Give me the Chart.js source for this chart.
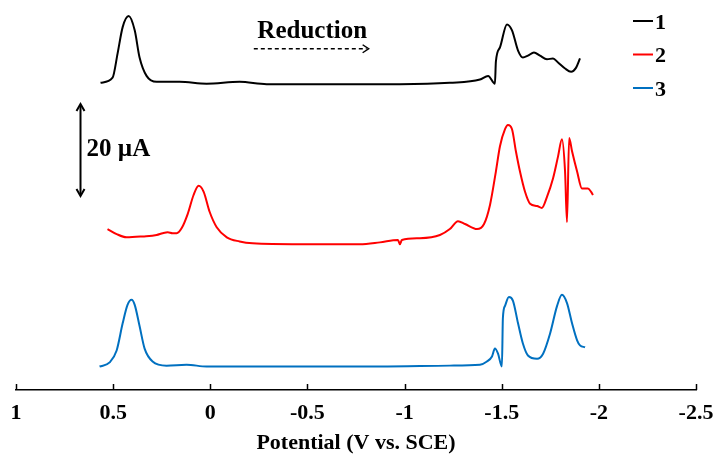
<!DOCTYPE html>
<html>
<head>
<meta charset="utf-8">
<script src="https://cdn.jsdelivr.net/npm/chart.js@4/dist/chart.umd.min.js"></script>
<style>
  html, body { margin: 0; padding: 0; background: #fff; }
  #wrap { width: 717px; height: 464px; }
</style>
</head>
<body>
<div id="wrap"><canvas id="c" width="717" height="464"></canvas></div>
<script>
// ---- Data (potential in V vs. SCE, current in µA relative to each trace's baseline) ----
const seriesNames = ["1", "2", "3"];
const seriesColors = ["#000000", "#ff0000", "#0070c0"];
const seriesOffsets = [66.8, 31.9, 5.3]; // vertical offset of each trace, µA

const potential1 = [0.565, 0.503, 0.477, 0.451, 0.420, 0.389, 0.364, 0.328, 0.276, 0.158, 0.019, -0.151, -0.290, -0.528, -0.976, -1.233, -1.388, -1.430, -1.465, -1.470, -1.491, -1.527, -1.553, -1.584, -1.609, -1.635, -1.666, -1.697, -1.733, -1.764, -1.790, -1.826, -1.857, -1.883, -1.903];
const current1   = [0, 1.1, 6.4, 12.1, 14.5, 11.4, 5.5, 1.5, 0.2, 0.2, -0.2, 0.2, -0.3, -0.3, -0.3, 0, 0.7, 1.5, -0.2, 4.6, 7.7, 12.7, 11.4, 7.0, 5.5, 5.9, 6.6, 5.9, 5.1, 5.3, 4.4, 3.1, 2.4, 3.3, 5.3];

const potential2 = [0.529, 0.482, 0.431, 0.348, 0.276, 0.245, 0.219, 0.194, 0.173, 0.147, 0.116, 0.086, 0.060, 0.034, 0.003, -0.033, -0.085, -0.151, -0.218, -0.460, -0.770, -0.873, -0.966, -0.976, -0.986, -1.079, -1.182, -1.233, -1.275, -1.311, -1.373, -1.409, -1.440, -1.470, -1.491, -1.517, -1.532, -1.553, -1.573, -1.594, -1.620, -1.646, -1.682, -1.707, -1.733, -1.764, -1.790, -1.810, -1.826, -1.836, -1.847, -1.862, -1.888, -1.913, -1.944, -1.960, -1.970];
const current2   = [3.1, 2.0, 1.3, 1.5, 1.8, 2.2, 2.4, 2.2, 2.2, 3.3, 6.4, 10.5, 12.5, 11.2, 6.8, 3.5, 1.3, 0.4, 0, -0.2, -0.2, 0.2, 0.7, -0.2, 0.7, 1.1, 1.8, 3.1, 4.8, 4.2, 3.1, 4.2, 8.4, 15.6, 21.1, 24.8, 25.7, 24.8, 20.0, 15.6, 11.2, 8.6, 8.1, 7.7, 10.1, 14.1, 18.9, 22.6, 15.6, 4.6, 22.9, 20.0, 15.6, 11.9, 11.9, 11.2, 10.5];

const potential3 = [0.570, 0.518, 0.482, 0.451, 0.426, 0.405, 0.389, 0.364, 0.338, 0.297, 0.225, 0.122, 0.019, -0.460, -0.873, -1.233, -1.388, -1.424, -1.450, -1.465, -1.481, -1.501, -1.506, -1.517, -1.537, -1.558, -1.584, -1.609, -1.635, -1.682, -1.713, -1.749, -1.785, -1.810, -1.836, -1.862, -1.888, -1.903, -1.929];
const current3   = [-0.2, 0.7, 3.3, 9.2, 13.2, 14.3, 13.2, 8.6, 3.7, 0.9, 0, 0.2, -0.2, -0.2, -0.2, 0, 0.2, 0.9, 2.0, 3.7, 2.6, -0.2, 10.3, 13.0, 14.9, 14.1, 9.2, 4.8, 2.2, 1.5, 2.6, 7.0, 13.0, 15.4, 13.6, 9.2, 5.5, 4.4, 4.0];

const tickValues = [1, 0.5, 0, -0.5, -1, -1.5, -2, -2.5];
const tickLabels = ["1", "0.5", "0", "-0.5", "-1", "-1.5", "-2", "-2.5"];

// Annotation values
const scaleBarPotential = 0.668;   // V, x position of the 20 µA bar
const scaleBarBottom = 42.2;       // µA
const scaleBarSize = 20;           // µA
const reductionArrowFrom = -0.224; // V
const reductionArrowTo = -0.815;   // V
const reductionArrowLevel = 74.2;  // µA level

// ---- Build datasets ----
const potentials = [potential1, potential2, potential3];
const currents = [current1, current2, current3];
const datasets = seriesNames.map((name, i) => ({
  label: name,
  data: potentials[i].map((x, j) => ({ x: x, y: currents[i][j] + seriesOffsets[i] })),
  borderColor: seriesColors[i],
  backgroundColor: seriesColors[i],
  borderWidth: 2,
  pointRadius: 0,
  cubicInterpolationMode: 'monotone',
  fill: false
}));

const FONT = "'Liberation Serif', 'Times New Roman', serif";

const decorPlugin = {
  id: 'decor',
  afterDraw(chart) {
    const ctx = chart.ctx;
    const xs = chart.scales.x, ys = chart.scales.y;
    const area = chart.chartArea;
    ctx.save();
    // inward tick marks
    ctx.strokeStyle = '#000';
    ctx.lineWidth = 1.5;
    tickValues.forEach(v => {
      const px = Math.round(xs.getPixelForValue(v)) + 0.5;
      ctx.beginPath();
      ctx.moveTo(px, area.bottom);
      ctx.lineTo(px, area.bottom - 6);
      ctx.stroke();
    });

    // Reduction label + dashed arrow
    const rx1 = xs.getPixelForValue(reductionArrowFrom);
    const rx2 = xs.getPixelForValue(reductionArrowTo);
    const ry = ys.getPixelForValue(reductionArrowLevel);
    ctx.fillStyle = '#000';
    ctx.font = "bold 25px " + FONT;
    ctx.textAlign = 'center';
    ctx.textBaseline = 'middle';
    ctx.fillText('Reduction', (rx1 + rx2) / 2 + 1, ry - 17);
    ctx.setLineDash([4, 3]);
    ctx.lineWidth = 1.5;
    ctx.beginPath();
    ctx.moveTo(rx1, ry);
    ctx.lineTo(rx2 - 2, ry);
    ctx.stroke();
    ctx.setLineDash([]);
    ctx.beginPath();
    ctx.moveTo(rx2 - 6, ry - 4);
    ctx.lineTo(rx2, ry);
    ctx.lineTo(rx2 - 6, ry + 4);
    ctx.stroke();

    // 20 µA scale bar (double arrow)
    const bx = xs.getPixelForValue(scaleBarPotential);
    const by1 = ys.getPixelForValue(scaleBarBottom + scaleBarSize);
    const by2 = ys.getPixelForValue(scaleBarBottom);
    ctx.lineWidth = 2;
    ctx.beginPath();
    ctx.moveTo(bx, by1 + 1);
    ctx.lineTo(bx, by2 - 1);
    ctx.stroke();
    ctx.beginPath();
    ctx.moveTo(bx - 4, by1 + 7);
    ctx.lineTo(bx, by1);
    ctx.lineTo(bx + 4, by1 + 7);
    ctx.stroke();
    ctx.beginPath();
    ctx.moveTo(bx - 4, by2 - 7);
    ctx.lineTo(bx, by2);
    ctx.lineTo(bx + 4, by2 - 7);
    ctx.stroke();
    ctx.font = "bold 25px " + FONT;
    ctx.textAlign = 'left';
    ctx.fillText('20 µA', bx + 6, (by1 + by2) / 2);

    // Legend
    const lx = 633, ly0 = 21, dy = 33.5;
    ctx.font = "bold 22px " + FONT;
    seriesNames.forEach((name, i) => {
      const y = ly0 + i * dy;
      ctx.strokeStyle = seriesColors[i];
      ctx.lineWidth = 2;
      ctx.beginPath();
      ctx.moveTo(lx, y);
      ctx.lineTo(lx + 20, y);
      ctx.stroke();
      ctx.fillStyle = '#000';
      ctx.fillText(name, lx + 22, y + 2);
    });
    ctx.restore();
  }
};

new Chart(document.getElementById('c'), {
  type: 'line',
  data: { datasets },
  options: {
    responsive: false,
    animation: false,
    events: [],
    layout: { padding: { left: 16, right: 21, top: 0, bottom: 10 } },
    plugins: { legend: { display: false }, tooltip: { enabled: false } },
    scales: {
      x: {
        type: 'linear',
        min: -2.5, max: 1,
        reverse: true,
        afterBuildTicks(axis) { axis.ticks = tickValues.map(v => ({ value: v })); },
        ticks: {
          padding: 0,
          color: '#000',
          font: { family: FONT, size: 22, weight: 'bold', lineHeight: 1 },
          callback(value) { const k = tickValues.indexOf(value); return k >= 0 ? tickLabels[k] : ''; },
          maxRotation: 0, autoSkip: false
        },
        grid: { display: true, drawOnChartArea: false, drawTicks: true, tickLength: 12, tickColor: 'rgba(0,0,0,0)' },
        border: { display: true, color: '#000', width: 1.5 },
        title: {
          display: true,
          text: 'Potential (V vs. SCE)',
          color: '#000',
          font: { family: FONT, size: 22, weight: 'bold', lineHeight: 1 },
          padding: { top: 8, bottom: 0 }
        }
      },
      y: { display: false, min: 0, max: 84.8 }
    }
  },
  plugins: [decorPlugin]
});
</script>
</body>
</html>
